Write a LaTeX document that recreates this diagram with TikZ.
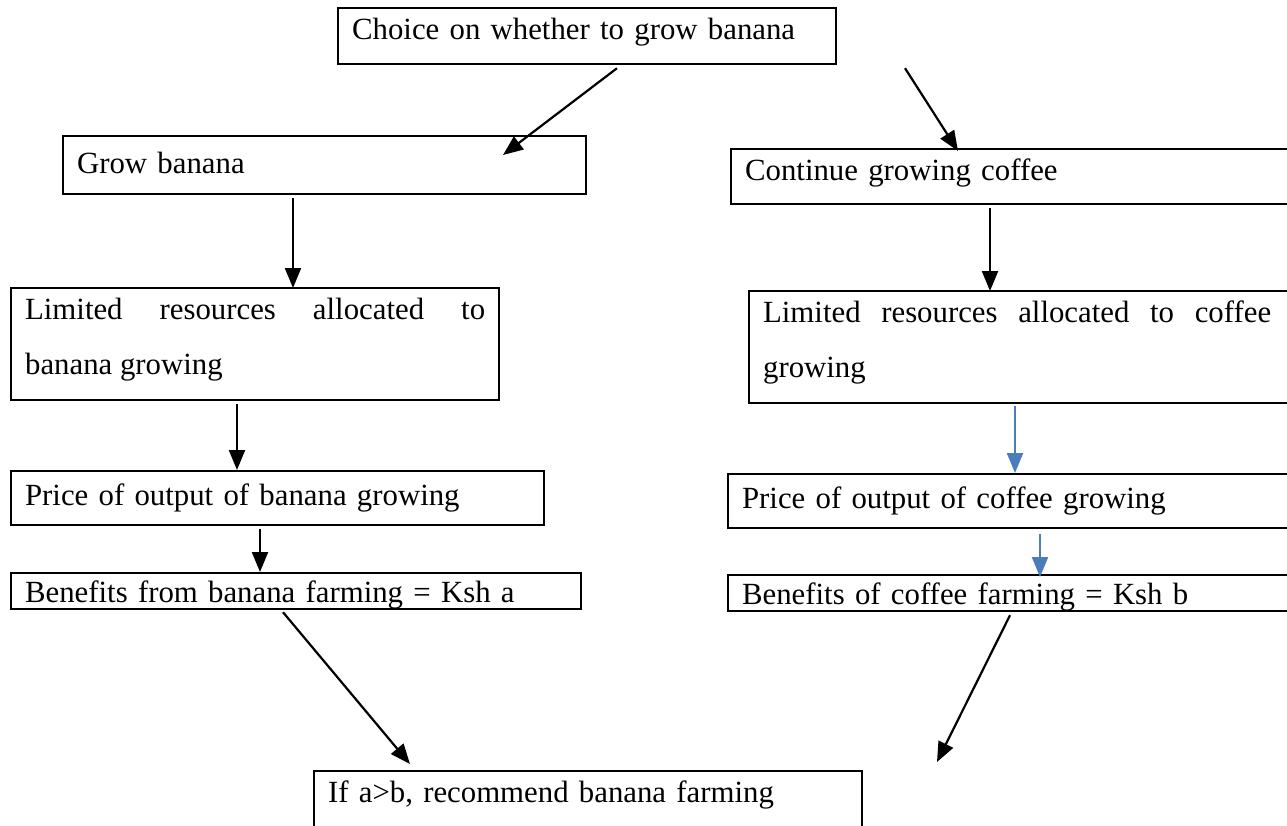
\documentclass[tikz,border=0pt]{standalone}
\usepackage{fontspec}
\setmainfont{Liberation Serif}
\usetikzlibrary{arrows.meta}
\definecolor{arrowblue}{HTML}{4A7EBB}

\tikzset{
  box/.style={draw, line width=2.2pt, anchor=north west, inner xsep=14pt, inner ysep=9pt,
    text height=22pt, align=left, font=\fontsize{30.8}{55}\selectfont},
  arr/.style={line width=2.2pt, >={Triangle[length=20pt,width=16pt]}, ->},
  arrb/.style={arr, draw=arrowblue, fill=arrowblue}
}

\begin{document}
\begin{tikzpicture}[x=1pt,y=-1pt]
\useasboundingbox (0,0) rectangle (1287,825);
\clip (0,0) rectangle (1287,825);

\node[box, text width=470pt, text depth=16pt] (choice) at (337,7) {Choice on whether to grow banana};

\node[box, text width=495pt, text height=28pt, text depth=12pt] (grow) at (62,135) {Grow banana};
\node[box, text width=600pt, text depth=15pt] (cont) at (730,148) {Continue growing coffee};

\node[box, text width=460pt, text depth=72pt, align=justify] (limb) at (10,287) {Limited resources allocated to\linebreak banana growing};
\node[box, text width=524pt, text depth=72pt] (limc) at (748,290) {\parbox[t]{508pt}{Limited\hfill resources\hfill allocated\hfill to\hfill coffee\\growing}};

\node[box, text width=505pt, text height=25pt, text depth=11pt] (priceb) at (10,470) {Price of output of banana growing};
\node[box, text width=600pt, text height=25pt, text depth=11pt] (pricec) at (727,473) {Price of output of coffee growing};

\node[box, text width=542pt, text depth=0pt, inner ysep=7pt] (benb) at (10,572) {Benefits from banana farming = Ksh a};
\node[box, text width=600pt, text depth=0pt, inner ysep=7pt] (benc) at (727,574) {Benefits of coffee farming = Ksh b};

\node[box, text width=520pt, text depth=40pt] (rec) at (313,770) {If a>b, recommend banana farming};

\draw[arr] ([xshift=280pt,yshift=-3pt]choice.south west) -- ([xshift=441pt,yshift=-20pt]grow.north west);
\draw[arr] ([xshift=568pt,yshift=-3pt]choice.south west) -- ([xshift=228pt,yshift=-3pt]cont.north west);
\draw[arr] ([xshift=231pt,yshift=-3pt]grow.south west) -- ([xshift=283pt,yshift=-1pt]limb.north west);
\draw[arr] ([xshift=260pt,yshift=-3pt]cont.south west) -- ([xshift=242pt,yshift=-1pt]limc.north west);
\draw[arr] ([xshift=227pt,yshift=-3pt]limb.south west) -- ([xshift=227pt]priceb.north west);
\draw[arrb] ([xshift=267pt,yshift=-2pt]limc.south west) -- ([xshift=288pt]pricec.north west);
\draw[arr] ([xshift=250pt,yshift=-3pt]priceb.south west) -- ([xshift=250pt]benb.north west);
\draw[arrb] ([xshift=313pt,yshift=-5pt]pricec.south west) -- ([xshift=313pt,yshift=-3pt]benc.north west);
\draw[arr] ([xshift=273pt,yshift=-2pt]benb.south west) -- ([xshift=97pt,yshift=6pt]rec.north west);
\draw[arr] ([xshift=283pt,yshift=-3pt]benc.south west) -- ([xshift=624pt,yshift=8pt]rec.north west);

\end{tikzpicture}
\end{document}
